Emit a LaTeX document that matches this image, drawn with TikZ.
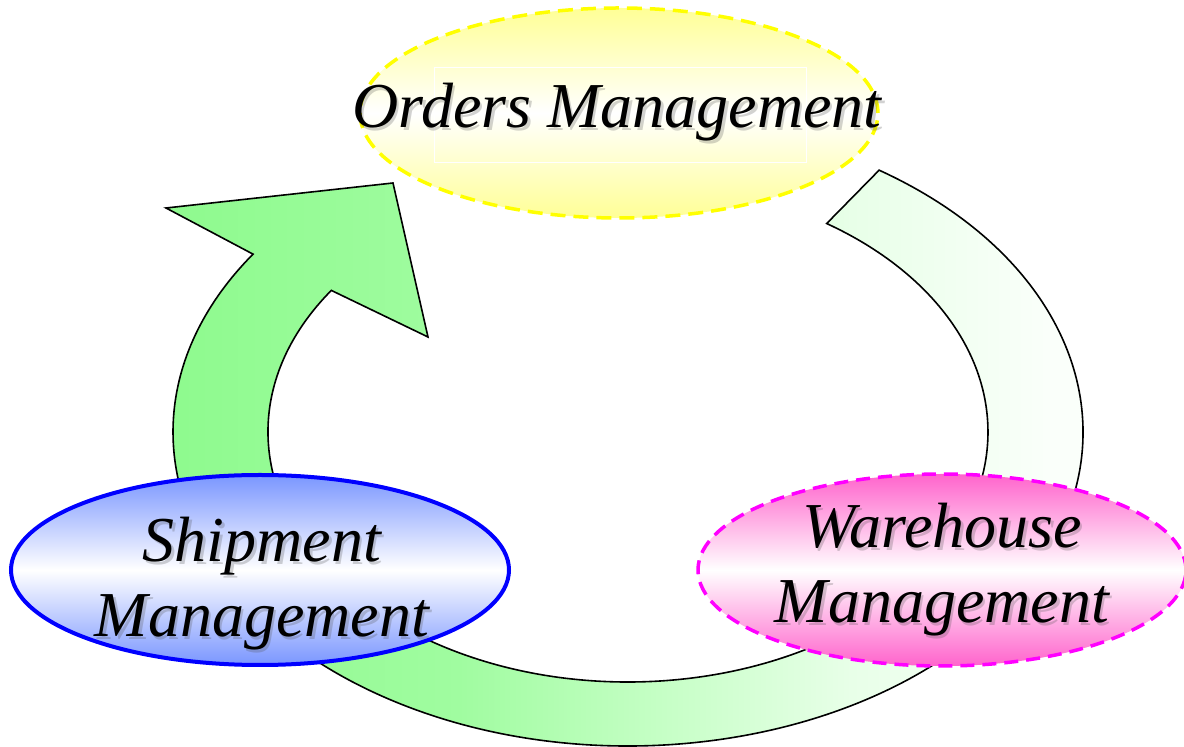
\documentclass[tikz,border=0pt]{standalone}
\usepackage{fontspec}
\setmainfont{Liberation Serif}
\usetikzlibrary{shapes.geometric, calc}
\definecolor{ringgreen}{RGB}{142,250,142}
\definecolor{ringmid}{RGB}{160,252,160}
\definecolor{ringlight}{RGB}{200,255,200}
\definecolor{ringpale}{RGB}{232,255,232}
\definecolor{ringwhite}{RGB}{250,255,250}
\definecolor{shipblue}{RGB}{122,150,255}
\definecolor{shipline}{RGB}{0,0,255}
\definecolor{warepink}{RGB}{255,100,204}
\definecolor{wareline}{RGB}{255,0,255}
\definecolor{orderyellow}{RGB}{255,255,150}
\definecolor{orderline}{RGB}{255,255,0}
\pgfdeclarehorizontalshading{ringfade}{100bp}{color(0bp)=(ringgreen); color(25bp)=(ringgreen); color(40bp)=(ringmid); color(51bp)=(ringlight); color(60bp)=(ringpale); color(70bp)=(ringwhite); color(100bp)=(ringwhite)}
\newcommand{\shadowlabel}[3]{
	\node[shadowtext] (#2 shadow) at ([shift={(2.5,-2.5)}]#1) {#3};
	\node[labeltext] (#2) at (#1) {#3};
}

\begin{document}
\begin{tikzpicture}[x=1pt, y=1pt,
	labeltext/.style={font=\itshape\fontsize{64}{75}\selectfont, align=center, inner sep=0pt, anchor=base},
	shadowtext/.style={labeltext, text=black!70, opacity=.25},
	ringarrow/.style={draw=black, line width=1.6pt, shading=ringfade, line join=miter},
	bubble/.style={ellipse, inner sep=0pt}]
				\useasboundingbox (0,0) rectangle (1184,747);
				\coordinate (ring) at (628,315);
				\coordinate (wing left) at (166,539);
				\coordinate (tip) at (393,564);
				\coordinate (wing right) at (428,410);
				\draw[ringarrow] ($(ring)+(56.5:455 and 314)$) arc[start angle=56.5, end angle=-214.5, x radius=455, y radius=314]
					-- (wing left) -- (tip) -- (wing right)
					-- ($(ring)+(145.5:360 and 250)$) arc[start angle=-214.5, end angle=56.5, x radius=360, y radius=250] -- cycle;
				\node[bubble, minimum width=518, minimum height=210, top color=orderyellow, bottom color=orderyellow, middle color=white, draw=orderline, line width=3.5pt, dash pattern=on 15pt off 8pt] (orders) at (619,634) {};
				\node[draw=white, line width=1pt, minimum width=372, minimum height=95, inner sep=0pt] (orders frame) at (620,631.5) {};
				\node[bubble, minimum width=498, minimum height=190, top color=shipblue, bottom color=shipblue, middle color=white, draw=shipline, line width=4pt] (shipment) at (260,177) {};
				\node[bubble, minimum width=488, minimum height=192, top color=warepink, bottom color=warepink, middle color=white, draw=wareline, line width=3.5pt, dash pattern=on 14pt off 8pt] (warehouse) at (942,177) {};
				\shadowlabel{617,619}{orders text}{Orders Management};
				\shadowlabel{262,110}{shipment text}{Shipment\\Management};
				\shadowlabel{942,124}{warehouse text}{Warehouse\\Management};
\end{tikzpicture}
\end{document}
